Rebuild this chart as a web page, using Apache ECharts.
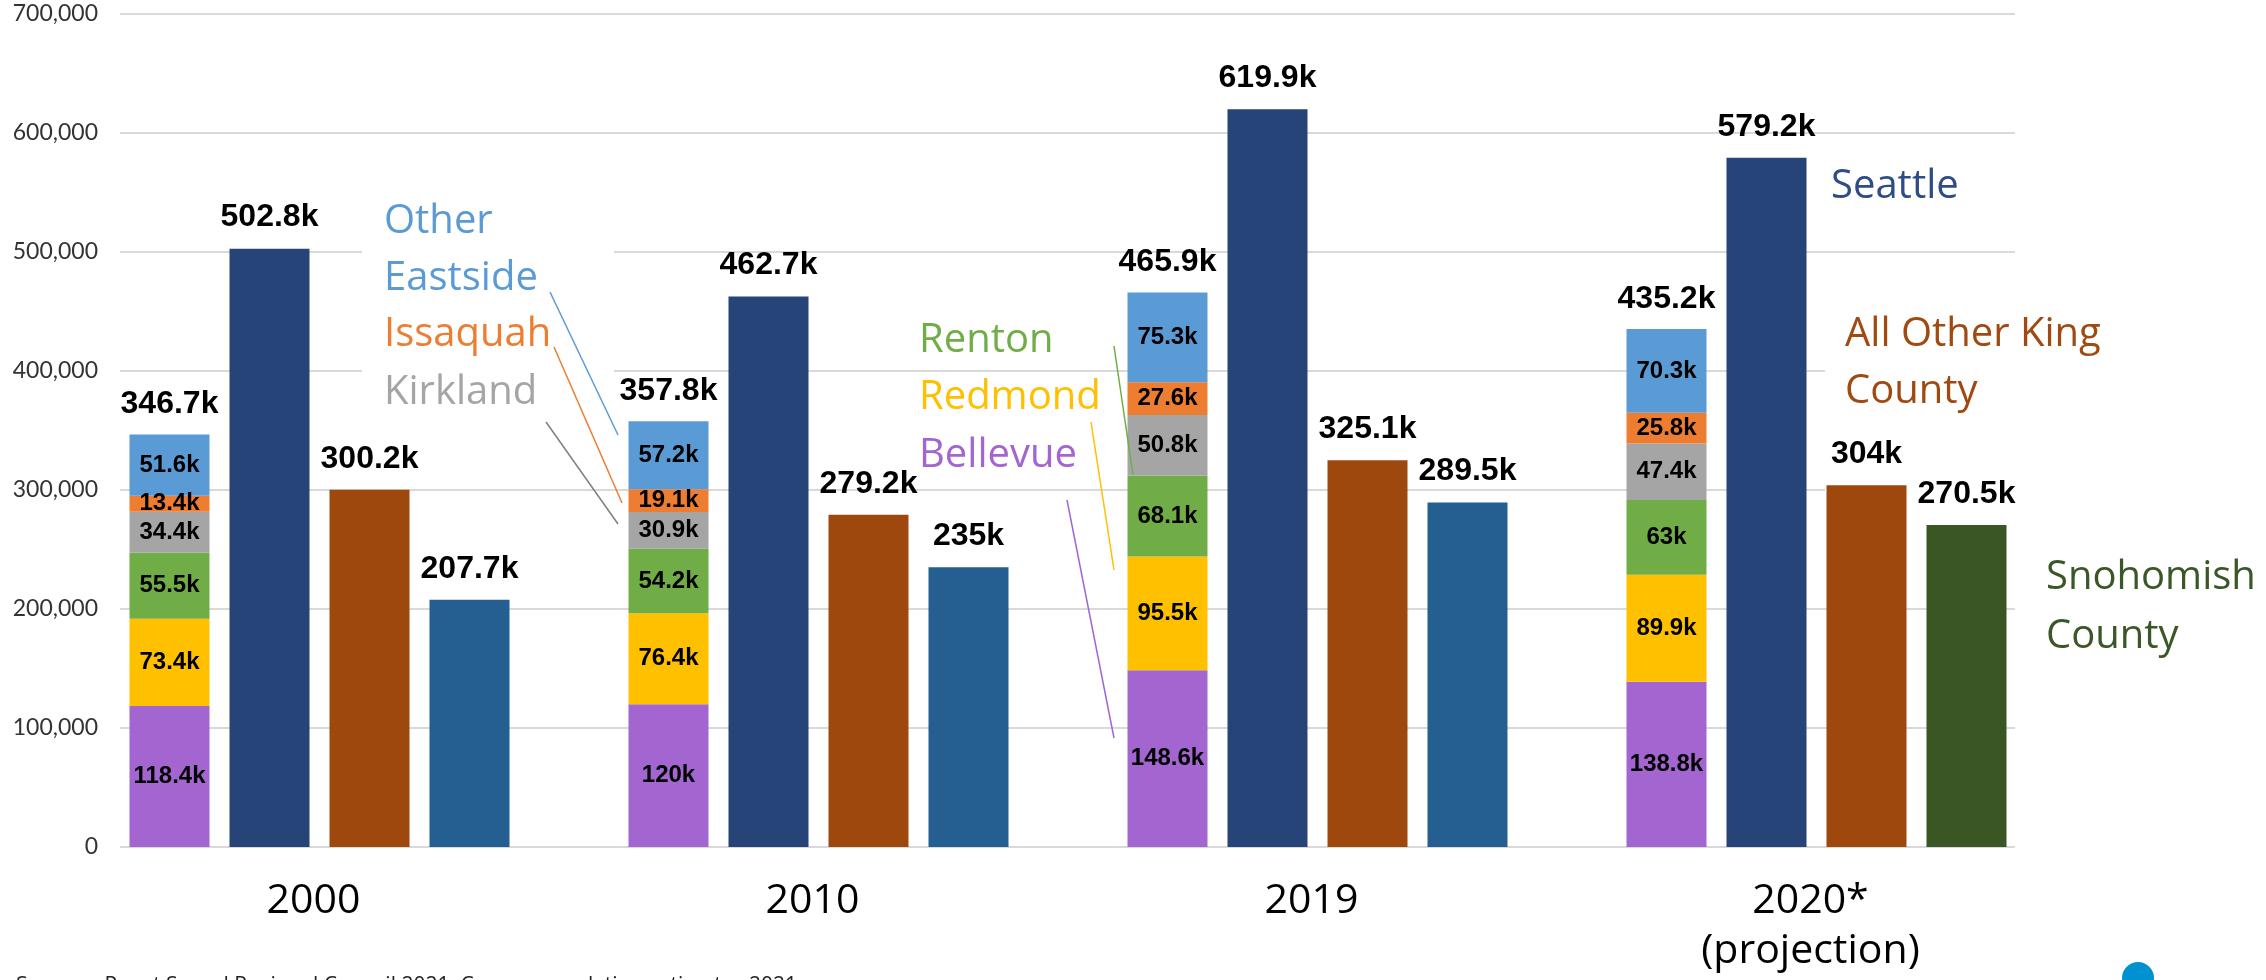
<!DOCTYPE html>
<html lang="en">
<head>
<meta charset="UTF-8">
<title>Population by area</title>
<script src="https://cdn.jsdelivr.net/npm/echarts@6/dist/echarts.min.js"></script>
<style>
*{margin:0;padding:0}
html,body{width:100%;height:100%;background:#fff}
#main{width:2266px;height:980px}
</style>
</head>
<body>
<div id="main"></div>
<script>
// data (persons)
var years = ['2000', '2010', '2019', '2020*\n(projection)'];
var bellevue = [118400, 120000, 148600, 138800];
var redmond = [73400, 76400, 95500, 89900];
var renton = [55500, 54200, 68100, 63000];
var kirkland = [34400, 30900, 50800, 47400];
var issaquah = [13400, 19100, 27600, 25800];
var otherEastside = [51600, 57200, 75300, 70300];
var seattle = [502800, 462700, 619900, 579200];
var otherKing = [300200, 279200, 325100, 304000];
var snohomish = [207700, 235000, 289500, 270500];
var yTicks = [0, 100000, 200000, 300000, 400000, 500000, 600000, 700000];

var chart = echarts.init(document.getElementById('main'));

function k(v) {
  return (Math.round(v / 100) / 10) + 'k';
}

var eastside = [
  { name: 'Bellevue', data: bellevue, color: '#A366D0' },
  { name: 'Redmond', data: redmond, color: '#FFC000' },
  { name: 'Renton', data: renton, color: '#70AD47' },
  { name: 'Kirkland', data: kirkland, color: '#A5A5A5' },
  { name: 'Issaquah', data: issaquah, color: '#ED7D31' },
  { name: 'Other Eastside', data: otherEastside, color: '#5B9BD5' }
];

// totals above the eastside stack
var totals = years.map(function (y, i) {
  var s = 0;
  eastside.forEach(function (e) { s += e.data[i]; });
  return s;
});

var numFont = 'Liberation Sans, Arial, sans-serif';
var segLabel = {
  show: true, position: 'inside', color: '#000',
  fontFamily: numFont, fontWeight: 'bold', fontSize: 24,
  formatter: function (p) { return k(p.value); }
};
var topLabel = {
  show: true, position: 'top', distance: 15, color: '#000',
  fontFamily: numFont, fontWeight: 'bold', fontSize: 32,
  formatter: function (p) { return k(p.value); }
};

var series = eastside.map(function (e) {
  return {
    type: 'bar', name: e.name, stack: 'east',
    xAxisIndex: 0, yAxisIndex: 0,
    barWidth: 80, barGap: '25%',
    itemStyle: { color: e.color },
    label: segLabel,
    data: e.data
  };
});
// zero-height bar on top of the stack, just to carry the total label
series.push({
  type: 'bar', name: 'total', stack: 'east',
  xAxisIndex: 0, yAxisIndex: 0,
  barWidth: 80, barGap: '25%',
  itemStyle: { color: 'rgba(0,0,0,0)' },
  label: {
    show: true, position: 'top', distance: 14, color: '#000',
    fontFamily: numFont, fontWeight: 'bold', fontSize: 32,
    formatter: function (p) { return k(totals[p.dataIndex]); }
  },
  data: totals.map(function () { return 0; })
});
series.push({
  type: 'bar', name: 'Seattle', xAxisIndex: 0, yAxisIndex: 0,
  barWidth: 80, barGap: '25%',
  itemStyle: { color: '#264478' }, label: topLabel, data: seattle
});
series.push({
  type: 'bar', name: 'All Other King County', xAxisIndex: 0, yAxisIndex: 0,
  barWidth: 80, barGap: '25%',
  itemStyle: { color: '#9E480E' }, label: topLabel, data: otherKing
});
series.push({
  type: 'bar', name: 'Snohomish County', xAxisIndex: 0, yAxisIndex: 0,
  barWidth: 80, barGap: '25%',
  label: topLabel,
  data: snohomish.map(function (v, i) {
    return { value: v, itemStyle: { color: i === 3 ? '#3A5624' : '#255E91' } };
  })
});

var notes = [
  { text: 'Other\nEastside', x: 384, y: 250, color: '#5B9BD5', lh: 57 },
  { text: 'Issaquah', x: 384, y: 335, color: '#ED7D31' },
  { text: 'Kirkland', x: 384, y: 393, color: '#A5A5A5' },
  { text: 'Renton', x: 919, y: 341, color: '#70AD47' },
  { text: 'Redmond', x: 919, y: 398, color: '#FFC000' },
  { text: 'Bellevue', x: 919, y: 456, color: '#A366D0' },
  { text: 'Seattle', x: 1831, y: 187, color: '#2E4C88' },
  { text: 'All Other King\nCounty', x: 1845, y: 363, color: '#A04A12', lh: 57 },
  { text: 'Snohomish\nCounty', x: 2046, y: 607, color: '#3B5727', lh: 59 }
];
var leaders = [
  [550, 292, 618, 435, '#5B9BD5'],
  [554, 347, 622, 503, '#ED7D31'],
  [546, 422, 618, 524, '#7F7F7F'],
  [1114, 346, 1133, 475, '#70AD47'],
  [1091, 422, 1114, 570, '#FFC000'],
  [1067, 500, 1114, 738, '#A366D0']
];

var graphic = [
  // white boxes behind the callout text hide the gridlines there
  { type: 'rect', z: 1, shape: { x: 362, y: 195, width: 252, height: 235 }, style: { fill: '#fff' } },
  { type: 'rect', z: 1, shape: { x: 1825, y: 300, width: 200, height: 215 }, style: { fill: '#fff' } }
];
notes.forEach(function (n) {
  graphic.push({
    type: 'text', z: 100, x: n.x, y: n.y,
    style: {
      text: n.text, fill: n.color, font: '40px Open Sans',
      lineHeight: n.lh || 57, verticalAlign: 'middle', align: 'left'
    }
  });
});
leaders.forEach(function (l) {
  graphic.push({
    type: 'line', z: 100,
    shape: { x1: l[0], y1: l[1], x2: l[2], y2: l[3] },
    style: { stroke: l[4], lineWidth: 1.5 }
  });
});
graphic.push({
  type: 'circle', z: 100, shape: { cx: 2138, cy: 978, r: 16 }, style: { fill: '#0092D0' }
});
graphic.push({
  type: 'text', z: 100, x: 16, y: 986,
  style: {
    text: 'Sources: Puget Sound Regional Council 2021; Census population estimates 2021',
    fill: '#222', font: '21px Open Sans', verticalAlign: 'middle'
  }
});

var option = {
  animation: false,
  backgroundColor: '#fff',
  grid: [
    { left: 70, width: 1996, top: 14, bottom: 133 },
    { left: 120, right: 251, top: 14, bottom: 133 }
  ],
  xAxis: [
    {
      type: 'category', gridIndex: 0, data: years,
      axisLine: { show: false }, axisTick: { show: false },
      axisLabel: {
        interval: 0, margin: 29, color: '#000',
        fontFamily: 'Open Sans', fontSize: 41, lineHeight: 50,
        padding: [0, 12, 0, 0]
      }
    },
    { type: 'value', gridIndex: 1, min: 0, max: 1, show: false }
  ],
  yAxis: [
    {
      type: 'value', gridIndex: 0, show: false,
      min: yTicks[0], max: yTicks[yTicks.length - 1], interval: yTicks[1] - yTicks[0]
    },
    {
      type: 'value', gridIndex: 1,
      min: yTicks[0], max: yTicks[yTicks.length - 1], interval: yTicks[1] - yTicks[0],
      axisLine: { show: false }, axisTick: { show: false },
      axisLabel: {
        margin: 22, color: '#333', fontFamily: 'Lato', fontSize: 23,
        formatter: function (v) { return v.toLocaleString('en-US'); }
      },
      splitLine: { lineStyle: { color: '#D9D9D9', width: 2 } }
    }
  ],
  series: series,
  graphic: graphic
};

chart.setOption(option);
</script>
</body>
</html>
